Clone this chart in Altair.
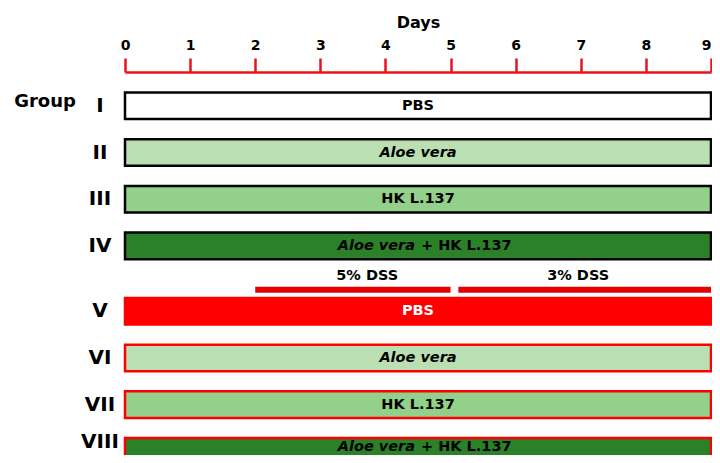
import altair as alt
import pandas as pd

# ---- data ----
groups = ["I", "II", "III", "IV", "V", "VI", "VII", "VIII"]
treatments = ["PBS", "Aloe vera", "HK L.137", "Aloe vera + HK L.137",
              "PBS", "Aloe vera", "HK L.137", "Aloe vera + HK L.137"]
dss_given = [False, False, False, False, True, True, True, True]
start_day = [0, 0, 0, 0, 0, 0, 0, 0]
end_day = [9, 9, 9, 9, 9, 9, 9, 9]
day_ticks = [0, 1, 2, 3, 4, 5, 6, 7, 8, 9]
dss_labels = ["5% DSS", "3% DSS"]
dss_start = [2, 5.12]
dss_end = [5, 9]
dss_label_day = [3.72, 6.96]

# ---- layout helpers ----
GAP = 0.4          # extra space (in rows) before the DSS groups
HALF = 0.285       # half bar thickness in rows
TEXT_MAX = 7.30    # keep labels of the last, partly visible row inside the page
ROMAN_MAX = 7.20
slots = [i + (GAP if d else 0) for i, d in enumerate(dss_given)]
first_dss_slot = slots[dss_given.index(True)]

rows = []
for g, t, d, s, a, b in zip(groups, treatments, dss_given, slots, start_day, end_day):
    key = ("DSS " + t) if (d and t == "PBS") else t
    rows.append(dict(group=g, treatment=t, cond="DSS" if d else "control",
                     fillkey=key, slot=s, ty=min(s, TEXT_MAX), ry=min(s, ROMAN_MAX),
                     top=s - HALF, bot=s + HALF,
                     start=a, end=b, mid=(a + b) / 2,
                     white=bool(d and t == "PBS")))
df = pd.DataFrame(rows)

fill_domain = ["PBS", "Aloe vera", "HK L.137", "Aloe vera + HK L.137", "DSS PBS"]
fill_range = ["#ffffff", "#b9dfb2", "#93d08a", "#2b8128", "#ff0000"]

ydom = [-0.724, 7.649]
yscale = alt.Scale(domain=ydom, reverse=True, nice=False, zero=False)
xscale = alt.Scale(domain=[0, 9], nice=False, zero=False)

FONT = "DejaVu Sans"
FS = 14.5

xaxis = alt.Axis(orient="top", values=day_ticks, title="Days",
                 grid=False, domainColor="#e8141c", domainWidth=2.5,
                 tickColor="#e8141c", tickWidth=2.5, tickSize=14,
                 labelFont=FONT, labelFontWeight="bold", labelFontSize=14,
                 labelColor="black", labelPadding=6, labelFlush=False,
                 labelAlign=alt.ExprRef(expr="datum.value == 9 ? 'right' : 'center'"),
                 titleFont=FONT, titleFontWeight="bold", titleFontSize=16,
                 titleColor="black", titlePadding=8, format="d")

base = alt.Chart(df)

bars = base.mark_rect(strokeWidth=2.5).encode(
    x=alt.X("start:Q", scale=xscale, axis=xaxis),
    x2="end:Q",
    y=alt.Y("top:Q", scale=yscale, axis=None),
    y2="bot:Q",
    fill=alt.Fill("fillkey:N", scale=alt.Scale(domain=fill_domain, range=fill_range), legend=None),
    stroke=alt.Stroke("cond:N", scale=alt.Scale(domain=["control", "DSS"], range=["#000000", "#ff0000"]), legend=None),
)

txt_color = alt.condition("datum.white", alt.value("white"), alt.value("black"))

single_plain = base.transform_filter(
    "indexof(datum.treatment, '+') < 0 && datum.treatment != 'Aloe vera'"
).mark_text(font=FONT, fontWeight="bold", fontSize=FS, align="center", baseline="middle").encode(
    x=alt.X("mid:Q", scale=xscale, axis=xaxis),
    y=alt.Y("ty:Q", scale=yscale, axis=None),
    text="treatment:N",
    color=txt_color,
)
single_it = base.transform_filter("datum.treatment == 'Aloe vera'").mark_text(
    font=FONT, fontWeight="bold", fontStyle="italic", fontSize=FS, align="center", baseline="middle"
).encode(
    x=alt.X("mid:Q", scale=xscale, axis=xaxis),
    y=alt.Y("ty:Q", scale=yscale, axis=None),
    text="treatment:N",
    color=txt_color,
)

combo = base.transform_filter("indexof(datum.treatment, '+') >= 0").transform_calculate(
    italic_part="split(datum.treatment, ' + ')[0]",
    plain_part="'+ ' + split(datum.treatment, ' + ')[1]",
)
combo_it = combo.mark_text(font=FONT, fontWeight="bold", fontStyle="italic", fontSize=FS,
                           align="right", baseline="middle", dx=-3, color="black").encode(
    x=alt.X("mid:Q", scale=xscale, axis=xaxis),
    y=alt.Y("ty:Q", scale=yscale, axis=None),
    text="italic_part:N",
)
combo_pl = combo.mark_text(font=FONT, fontWeight="bold", fontSize=FS,
                           align="left", baseline="middle", dx=3, color="black").encode(
    x=alt.X("mid:Q", scale=xscale, axis=xaxis),
    y=alt.Y("ty:Q", scale=yscale, axis=None),
    text="plain_part:N",
)

roman = base.mark_text(font=FONT, fontWeight="bold", fontSize=20, align="center",
                       baseline="middle", color="black").encode(
    x=alt.value(-25),
    y=alt.Y("ry:Q", scale=yscale, axis=None),
    text="group:N",
)

group_word = alt.Chart(pd.DataFrame({"t": ["Group"], "slot": [slots[0] - 0.08]})).mark_text(
    font=FONT, fontWeight="bold", fontSize=18, align="center", baseline="middle", color="black"
).encode(x=alt.value(-80), y=alt.Y("slot:Q", scale=yscale, axis=None), text="t:N")

dss_df = pd.DataFrame({"label": dss_labels, "start": dss_start, "end": dss_end,
                       "lx": dss_label_day})
dss_df["ry"] = first_dss_slot - 0.46
dss_df["ly"] = first_dss_slot - 0.75

dss_rules = alt.Chart(dss_df).mark_rule(color="#e60000", strokeWidth=6).encode(
    x=alt.X("start:Q", scale=xscale, axis=xaxis), x2="end:Q",
    y=alt.Y("ry:Q", scale=yscale, axis=None),
)
dss_text = alt.Chart(dss_df).mark_text(font=FONT, fontWeight="bold", fontSize=FS,
                                       align="center", baseline="middle", color="black").encode(
    x=alt.X("lx:Q", scale=xscale, axis=xaxis),
    y=alt.Y("ly:Q", scale=yscale, axis=None),
    text="label:N",
)

chart = alt.layer(bars, single_plain, single_it, combo_it, combo_pl, roman, group_word,
                  dss_rules, dss_text).properties(
    width=586, height=391,
    autosize=alt.AutoSizeParams(type="none"),
    padding={"left": 117, "top": 64, "right": 1, "bottom": -8},
).configure_view(stroke=None)

chart.save("out.html", embed_options={"renderer": "svg", "actions": False})
